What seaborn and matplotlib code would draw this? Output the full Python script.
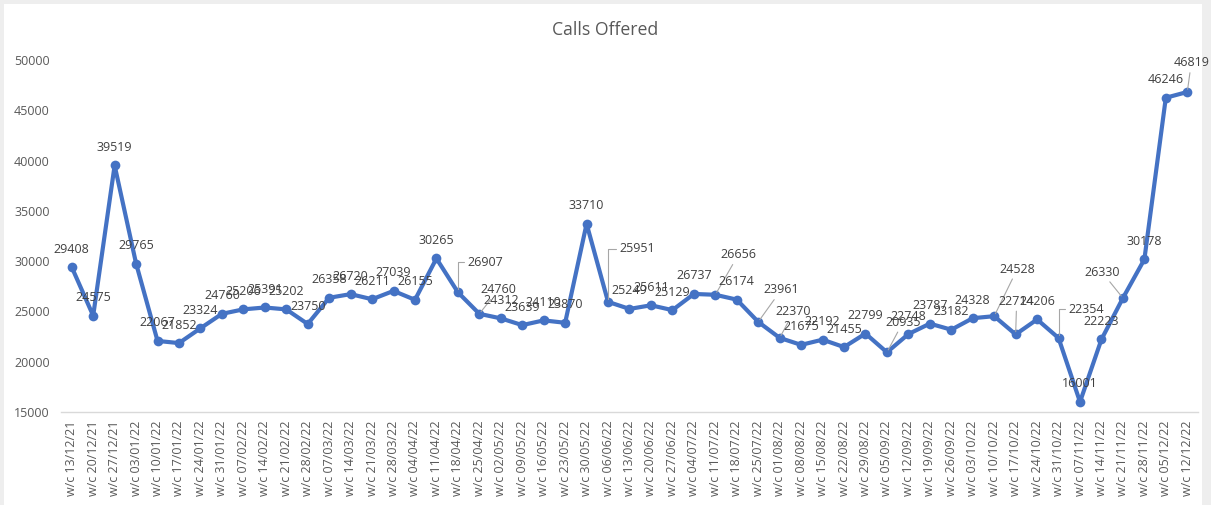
import matplotlib
matplotlib.use("Agg")
import matplotlib.pyplot as plt
import pandas as pd
import seaborn as sns
from matplotlib.patches import Rectangle

weeks = [
    "13/12/21", "20/12/21", "27/12/21", "03/01/22", "10/01/22", "17/01/22", "24/01/22",
    "31/01/22", "07/02/22", "14/02/22", "21/02/22", "28/02/22", "07/03/22", "14/03/22",
    "21/03/22", "28/03/22", "04/04/22", "11/04/22", "18/04/22", "25/04/22", "02/05/22",
    "09/05/22", "16/05/22", "23/05/22", "30/05/22", "06/06/22", "13/06/22", "20/06/22",
    "27/06/22", "04/07/22", "11/07/22", "18/07/22", "25/07/22", "01/08/22", "08/08/22",
    "15/08/22", "22/08/22", "29/08/22", "05/09/22", "12/09/22", "19/09/22", "26/09/22",
    "03/10/22", "10/10/22", "17/10/22", "24/10/22", "31/10/22", "07/11/22", "14/11/22",
    "21/11/22", "28/11/22", "05/12/22", "12/12/22",
]
calls_offered = [
    29408, 24575, 39519, 29765, 22067, 21852, 23324, 24760, 25206, 25391, 25202, 23750,
    26358, 26720, 26211, 27039, 26155, 30265, 26907, 24760, 24312, 23639, 24110, 23870,
    33710, 25951, 25249, 25611, 25129, 26737, 26656, 26174, 23961, 22370, 21675, 22192,
    21455, 22799, 20935, 22748, 23787, 23182, 24328, 24528, 22714, 24206, 22354, 16001,
    22223, 26330, 30178, 46246, 46819,
]

df = pd.DataFrame({"week": ["w/c " + w for w in weeks], "calls": calls_offered})

# label offsets in pixels (dx, dy up); entries with leader lines
leaders = {
    18: (27, 30, "elbow"), 19: (19, 24, "line"), 25: (29, 53, "elbow"),
    30: (23, 40, "line"), 32: (23, 32, "line"), 33: (14, 26, "line"),
    38: (16, 30, "line"), 43: (23, 47, "line"), 44: (1, 33, "line"),
    46: (28, 29, "elbow"), 49: (-21, 26, "line"), 52: (4, 29, "line"),
}

sns.set_theme(style="white")
plt.rcParams["font.family"] = ["Open Sans", "DejaVu Sans"]

fig = plt.figure(figsize=(12.11, 5.05), dpi=100)
ax = fig.add_axes([61 / 1211, 93 / 505, 1137 / 1211, 352 / 505])

x = list(range(len(df)))
sns.lineplot(x=x, y=df["calls"], ax=ax, color="#4472C4", linewidth=3,
             marker="o", markersize=7, markeredgewidth=0, markeredgecolor="#4472C4")

px = 0.72
for i, v in enumerate(df["calls"]):
    if i in leaders:
        dx, dy, kind = leaders[i]
        if kind == "elbow":
            arrow = dict(arrowstyle="-", color="#a6a6a6", lw=0.8, shrinkA=0, shrinkB=2,
                         relpos=(0, 0.5), connectionstyle="angle,angleA=0,angleB=90,rad=0")
        else:
            arrow = dict(arrowstyle="-", color="#a6a6a6", lw=0.8, shrinkA=0, shrinkB=2)
        ax.annotate(str(v), (i, v), xytext=(dx * px, dy * px), textcoords="offset points",
                    ha="center", va="center", fontsize=9, color="#404040", arrowprops=arrow)
    else:
        ax.annotate(str(v), (i, v), xytext=(0, 18 * px), textcoords="offset points",
                    ha="center", va="center", fontsize=9, color="#404040")

ax.set_xlim(-0.5, len(df) - 0.5)
ax.set_ylim(15000, 50000)
ax.set_yticks(range(15000, 50001, 5000))
ax.set_xticks(x)
ax.set_xticklabels(df["week"], rotation=90, fontsize=9, color="#595959")
ax.tick_params(axis="y", labelsize=9, labelcolor="#595959", length=0, pad=8)
ax.tick_params(axis="x", length=0, pad=6)
ax.set_xlabel("")
ax.set_ylabel("")
for s in ["top", "right", "left"]:
    ax.spines[s].set_visible(False)
ax.spines["bottom"].set_color("#d9d9d9")
ax.spines["bottom"].set_linewidth(1)

fig.text(0.5, 1 - 30 / 505, "Calls Offered", ha="center", va="center",
         fontsize=12.7, color="#595959")

# light grey frame strips like the source screenshot
for rect in [(0, 0, 4 / 1211, 1), (0, 1 - 4 / 505, 1, 4 / 505), (1 - 9 / 1211, 0, 9 / 1211, 1)]:
    fig.patches.append(Rectangle(rect[:2], rect[2], rect[3], transform=fig.transFigure,
                                 facecolor="#eeeeee", edgecolor="none", zorder=-5))

fig.savefig("out.png", dpi=100)
plt.close(fig)
